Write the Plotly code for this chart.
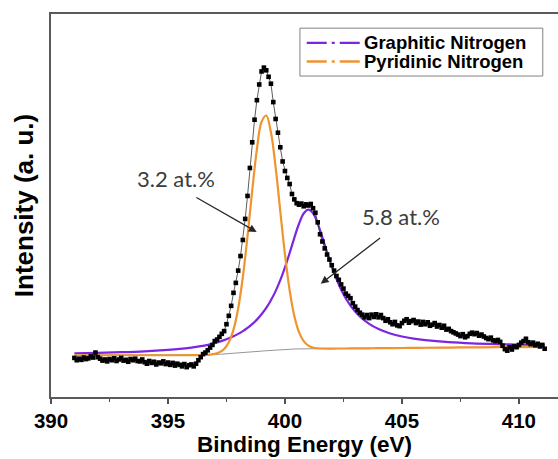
import numpy as np
import plotly.graph_objects as go

# ---- measured N 1s spectrum (step 0.1 eV starting at 391.0 eV) ----
start_ev = 391.0
step_ev = 0.1
intensity = [
    10.2, 9.6, 10.0, 9.7, 10.3, 9.9, 10.1, 10.6, 10.3, 11.6,
    10.4, 10.0, 9.5, 9.8, 9.3, 9.9, 9.6, 10.1, 9.4, 9.8,
    10.2, 9.5, 9.7, 9.2, 9.9, 9.6, 10.0, 9.4, 9.3, 9.8,
    9.1, 8.7, 9.4, 8.9, 9.2, 8.5, 9.0, 8.8, 9.3, 8.6,
    9.0, 8.4, 8.9, 8.2, 8.7, 8.4, 8.0, 8.6, 7.8, 8.3,
    8.5, 8.0, 8.7, 9.6, 10.4, 11.2, 11.6, 12.2, 12.9, 13.6,
    14.6, 15.0, 15.7, 16.5, 17.2, 19.0, 21.2, 23.8, 27.2, 29.8,
    33.0, 36.8, 41.0, 46.5, 52.5, 59.8, 66.5, 72.4, 77.5, 81.6,
    85.0, 86.0, 85.3, 83.6, 81.8, 77.0, 72.6, 69.0, 65.2, 61.5,
    59.0, 57.2, 55.6, 53.0, 51.6, 50.6, 50.2, 50.5, 49.8, 50.3,
    50.0, 50.4, 49.3, 48.1, 45.6, 42.5, 40.6, 38.8, 37.2, 35.9,
    34.4, 33.0, 31.6, 30.6, 29.4, 28.3, 27.0, 26.4, 25.8, 24.5,
    23.6, 22.7, 22.0, 21.5, 20.8, 21.4, 20.6, 21.5, 20.9, 21.6,
    20.8, 21.4, 20.6, 19.9, 20.3, 19.5, 19.0, 19.6, 18.7, 18.5,
    19.3, 19.9, 20.3, 19.4, 19.8, 20.1, 19.3, 19.7, 18.9, 19.6,
    19.0, 19.5, 18.6, 18.9, 19.3, 18.4, 18.8, 18.1, 18.6, 17.6,
    17.8, 17.2, 16.9, 16.6, 16.3, 15.9, 16.4, 15.6, 15.9, 16.5,
    16.8, 16.4, 16.7, 16.0, 16.3, 15.8, 15.4, 15.1, 15.5, 14.8,
    14.6, 14.9, 14.4, 13.4, 12.5, 12.1, 13.0, 12.4, 13.2, 13.0,
    13.6, 14.2, 14.6, 15.2, 14.3, 13.8, 14.2, 13.5, 13.9, 13.2,
    13.6, 12.6,
]
energy = np.round(start_ev + step_ev * np.arange(len(intensity)), 2)

# ---- fitted components (energy grid of the fit) ----
fit_energy = [
    391.0, 392.0, 393.0, 394.0, 395.0, 395.5, 396.0, 396.4, 396.6, 396.8,
    397.0, 397.2, 397.4, 397.6, 397.8, 398.0, 398.2, 398.4, 398.6, 398.8,
    399.0, 399.2, 399.4, 399.6, 399.8, 400.0, 400.2, 400.4, 400.6, 400.8,
    401.0, 401.2, 401.4, 401.6, 401.8, 402.0,
    402.4, 402.8, 403.2, 403.6, 404.0, 404.5, 405.0, 405.5, 406.0, 407.0,
    408.0, 409.0, 410.0, 411.1,
]
background = [
    10.90, 10.90, 10.90, 10.90, 10.90, 10.90, 10.92, 10.95, 10.98, 11.02,
    11.08, 11.15, 11.22, 11.30, 11.38, 11.47, 11.57, 11.67, 11.78, 11.88,
    11.98, 12.08, 12.18, 12.27, 12.35, 12.42, 12.48, 12.53, 12.56, 12.58,
    12.60, 12.61, 12.62, 12.63, 12.64, 12.65,
    12.66, 12.68, 12.70, 12.72, 12.74, 12.77, 12.80, 12.83, 12.86, 12.91,
    12.96, 13.00, 13.04, 13.08,
]
pyridinic = [
    10.90, 10.90, 10.90, 10.90, 10.90, 10.90, 10.92, 10.95, 11.00, 11.08,
    11.26, 11.66, 12.52, 14.29, 17.58, 23.11, 31.33, 42.00, 53.86, 64.67,
    71.86, 73.49, 69.12, 60.00, 48.53, 37.21, 27.84, 21.14, 16.92, 14.58,
    13.43, 12.92, 12.72, 12.66, 12.64, 12.65,
    12.66, 12.68, 12.70, 12.72, 12.74, 12.77, 12.80, 12.83, 12.86, 12.91,
    12.96, 13.00, 13.04, 13.08,
]
graphitic = [
    11.42, 11.54, 11.70, 11.93, 12.30, 12.55, 12.90, 13.26, 13.49, 13.76,
    14.08, 14.44, 14.85, 15.32, 15.86, 16.48, 17.20, 18.04, 19.04, 20.20,
    21.59, 23.25, 25.25, 27.64, 30.50, 33.84, 37.60, 41.57, 45.23, 47.90,
    48.90, 47.93, 45.29, 41.67, 37.76, 34.07,
    28.03, 23.85, 21.02, 19.09, 17.75, 16.59, 15.80, 15.24, 14.84, 14.31,
    13.99, 13.80, 13.68, 13.58,
]

x_ticks = [390, 395, 400, 405, 410]
labels = ["Graphitic Nitrogen", "Pyridinic Nitrogen"]
purple = "rgb(125,38,226)"
orange = "rgb(240,148,48)"
font_family = "Liberation Sans, Arial, sans-serif"

fig = go.Figure()

fig.add_trace(go.Scatter(
    x=fit_energy, y=background, mode="lines",
    line=dict(color="rgb(150,150,150)", width=1), showlegend=False))
fig.add_trace(go.Scatter(
    x=fit_energy, y=graphitic, mode="lines", line_shape="spline",
    name=labels[0], line=dict(color=purple, width=2.2), showlegend=False))
fig.add_trace(go.Scatter(
    x=fit_energy, y=pyridinic, mode="lines", line_shape="spline",
    name=labels[1], line=dict(color=orange, width=2.2), showlegend=False))
fig.add_trace(go.Scatter(
    x=energy, y=intensity, mode="lines+markers",
    line=dict(color="rgb(50,50,50)", width=0.8),
    marker=dict(symbol="square", size=4.6, color="black"),
    showlegend=False))

# ---- boxed key with dash-dot samples ----
box_x0, box_x1, box_y0, box_y1 = 0.491, 0.970, 0.838, 0.963
key_rows = [0.9245, 0.8760]
fig.add_shape(type="rect", xref="paper", yref="paper", layer="above",
              x0=box_x0, x1=box_x1, y0=box_y0, y1=box_y1,
              fillcolor="white", line=dict(color="rgb(130,130,130)", width=1))
for name, col, yk in zip(labels, [purple, orange], key_rows):
    fig.add_shape(type="line", xref="paper", yref="paper", layer="above",
                  x0=0.5044, x1=0.6095, y0=yk, y1=yk,
                  line=dict(color=col, width=2.4, dash="20px,5px,3px,5px"))
    fig.add_annotation(xref="paper", yref="paper", x=0.614, y=yk,
                       xanchor="left", yanchor="middle", text=name,
                       showarrow=False,
                       font=dict(size=18.5, weight="bold", color="black"))

# atomic-percent callouts
callout_font = dict(family="Lato, sans-serif", size=22, color="rgb(60,60,60)")
fig.add_annotation(x=395.34, y=57.1, text="3.2 at.%", showarrow=False,
                   font=callout_font)
fig.add_annotation(x=404.96, y=47.0, text="5.8 at.%", showarrow=False,
                   font=callout_font)
fig.add_annotation(x=398.79, y=43.1, ax=396.15, ay=52.3, axref="x", ayref="y",
                   text="", showarrow=True, arrowhead=2, arrowsize=1.2,
                   arrowwidth=1.3, arrowcolor="rgb(40,40,40)")
fig.add_annotation(x=401.53, y=29.6, ax=404.13, ay=41.8, axref="x", ayref="y",
                   text="", showarrow=True, arrowhead=2, arrowsize=1.2,
                   arrowwidth=1.3, arrowcolor="rgb(40,40,40)")

fig.update_layout(
    width=558, height=459,
    margin=dict(l=51, r=0, t=14, b=62),
    plot_bgcolor="white", paper_bgcolor="white",
    font=dict(family=font_family, color="black"),
    showlegend=False,
)
fig.update_xaxes(
    range=[390, 411.67], tickvals=x_ticks,
    ticktext=[f"<b>{t}</b>" for t in x_ticks],
    ticks="outside", ticklen=5, tickwidth=1.5, tickcolor="rgb(80,80,80)",
    minor=dict(ticks="outside", ticklen=3, tickwidth=1.2,
               tickcolor="rgb(80,80,80)", dtick=2.5, tick0=390),
    showline=True, linecolor="rgb(90,90,90)", linewidth=1.5, mirror=True,
    showgrid=False, zeroline=False,
    tickfont=dict(size=20.5),
    title=dict(text="<b>Binding Energy (eV)</b>", font=dict(size=22.5),
               standoff=3),
)
fig.update_yaxes(
    range=[0, 100], showticklabels=False, ticks="",
    showline=True, linecolor="rgb(90,90,90)", linewidth=1.5,
    showgrid=False, zeroline=False,
    title=dict(text="<b>Intensity (a. u.)</b>", font=dict(size=26),
               standoff=8),
)

fig.write_html("out.html")
